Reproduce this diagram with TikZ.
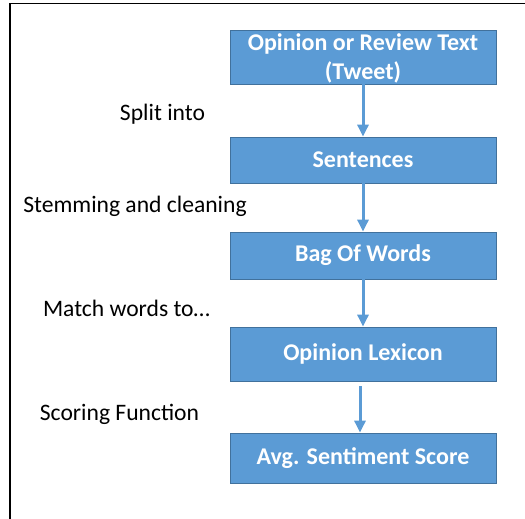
\documentclass[tikz,border=0pt]{standalone}
\usepackage{fontspec}
\setmainfont{Carlito}
\usepackage{xcolor}
\usepackage{tikz}
\usetikzlibrary{arrows.meta,positioning}
\definecolor{boxblue}{HTML}{5B9BD5}
\definecolor{boxedge}{HTML}{41719C}

\begin{document}
\begin{tikzpicture}[x=1pt,y=-1pt,
  stage/.style={draw=boxedge,fill=boxblue,text=white,line width=0.8pt,
    font=\bfseries\fontsize{24}{29}\selectfont,align=center,
    minimum width=266pt,inner sep=0pt},
  note/.style={font=\fontsize{23.6}{28}\selectfont},
  flow/.style={draw=boxblue,line width=3pt,-{Triangle[length=12pt,width=11pt]}}]
  \useasboundingbox (0,0) rectangle (525,519);
  \draw[line width=1.5pt] (10,519) -- (10,3.5) -- (525,3.5);
  % pipeline boxes, top to bottom
  \node[stage,minimum height=54pt,text depth=1pt] (review) at (363,57) {Opinion or Review Text\\(Tweet)};
  \node[stage,minimum height=46pt] (sent) at (363,160) {Sentences};
  \node[stage,minimum height=47pt] (bag) at (363,255.5) {Bag Of Words};
  \node[stage,minimum height=54pt] (lex) at (363,354) {Opinion Lexicon};
  \node[stage,minimum height=50pt] (score) at (363,458) {Avg. Sentiment Score};
  % steps between the boxes
  \draw[flow] (review) -- (sent);
  \draw[flow] (sent) -- (bag);
  \draw[flow] (bag) -- (lex);
  \draw[flow] ([shift={(-3,5)}]lex.south) -- ([xshift=-3pt]score.north);
  \node[note] (split) at (162.5,114) {Split into};
  \node[note] (stem) at (135,206) {Stemming and cleaning};
  \node[note] (match) at (126.5,308) {Match words to\ldots};
  \node[note] (scoring) at (119.5,414) {Scoring Function};
\end{tikzpicture}
\end{document}
